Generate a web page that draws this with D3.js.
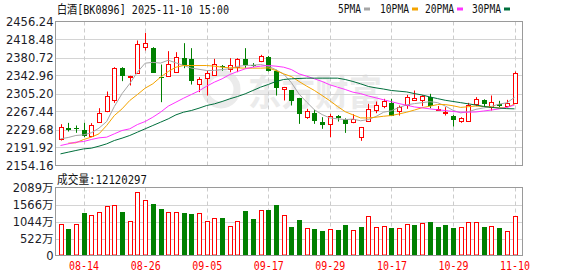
<!DOCTYPE html>
<html><head><meta charset="utf-8">
<script src="https://cdn.jsdelivr.net/npm/d3@7/dist/d3.min.js"></script>
<style>
html,body{margin:0;padding:0;background:#fff;}
svg{display:block;}
</style></head><body>
<svg id="c" width="578" height="276"></svg>
<script>
// ---------------- data ----------------
const title = "白酒[BK0896] 2025-11-10 15:00";
const volTitle = "成交量:12120297";
const dates = ["08-11","08-12","08-13","08-14","08-15","08-18","08-19","08-20","08-21","08-22",
"08-25","08-26","08-27","08-28","08-29","09-01","09-02","09-03","09-04","09-05",
"09-08","09-09","09-10","09-11","09-12","09-15","09-16","09-17","09-18","09-19",
"09-22","09-23","09-24","09-25","09-26","09-29","09-30","10-09","10-10","10-13",
"10-14","10-15","10-16","10-17","10-20","10-21","10-22","10-23","10-24","10-27",
"10-28","10-29","10-30","10-31","11-03","11-04","11-05","11-06","11-07","11-10"];
const opens = [2210.1,2233.8,2233.8,2227.6,2215.7,2245.7,2268.1,2291.2,2358.3,2340.0,
2348.5,2402.4,2401.0,2340.5,2342.9,2351.3,2380.0,2377.9,2325.4,2338.0,
2344.3,2362.0,2356.9,2360.4,2377.9,2366.0,2373.7,2382.8,2353.4,2313.6,
2311.5,2295.4,2255.5,2264.6,2245.0,2241.5,2259.0,2252.0,2246.4,2213.6,
2248.5,2270.9,2278.6,2285.6,2268.1,2281.4,2291.2,2292.6,2297.5,2272.0,
2265.3,2259.0,2247.1,2247.1,2283.5,2291.9,2276.5,2283.5,2280.0,2284.9];
const highs = [2240.8,2243.6,2238.1,2243.6,2243.0,2274.4,2309.4,2360.4,2360.4,2342.5,
2416.4,2432.4,2402.4,2366.0,2394.0,2391.9,2410.8,2400.3,2339.4,2353.4,
2377.9,2365.0,2379.3,2379.3,2400.3,2369.0,2386.3,2384.0,2355.0,2319.0,
2312.0,2296.0,2273.0,2271.0,2255.5,2262.5,2260.0,2253.0,2261.8,2235.0,
2283.5,2288.4,2294.0,2294.0,2280.0,2302.4,2311.5,2301.5,2304.5,2279.0,
2276.5,2260.0,2255.5,2285.6,2297.5,2293.0,2301.0,2289.8,2291.9,2351.3];
const lows = [2206.6,2225.4,2222.7,2213.6,2213.6,2243.7,2266.0,2285.6,2331.1,2322.0,
2346.4,2395.4,2348.5,2287.0,2340.8,2349.9,2358.3,2324.0,2308.0,2301.0,
2343.0,2353.0,2349.9,2349.9,2359.0,2361.0,2370.9,2351.3,2301.0,2290.5,
2280.0,2241.5,2252.0,2241.5,2231.1,2213.6,2246.4,2222.6,2242.9,2205.9,
2246.4,2263.9,2274.4,2259.0,2259.0,2273.0,2290.0,2278.6,2274.4,2269.5,
2259.0,2235.9,2243.7,2247.0,2278.6,2278.6,2269.5,2276.5,2278.6,2284.0];
const closes = [2235.9,2228.2,2230.4,2215.7,2240.1,2264.6,2300.3,2358.3,2341.5,2342.0,
2409.4,2411.5,2348.5,2338.5,2367.4,2381.4,2365.3,2331.1,2335.9,2348.5,
2367.4,2360.0,2365.3,2377.9,2365.3,2365.0,2384.9,2353.4,2316.4,2318.5,
2290.5,2262.5,2269.5,2248.5,2239.4,2259.0,2253.4,2241.5,2251.3,2234.5,
2273.0,2281.4,2290.5,2259.0,2276.5,2298.9,2295.4,2301.0,2278.6,2273.5,
2266.7,2250.6,2254.1,2281.4,2294.0,2283.5,2287.0,2280.0,2284.9,2348.5];
// volume in 万
const volumes = [968,825,968,1314,1243,1335,1518,1549,1345,1060,
1962,1702,1590,1437,1345,1345,1314,1284,1304,1070,
1151,1162,907,1070,1376,1131,1396,1406,1549,1243,
887,1100,846,825,764,815,795,948,785,887,
1213,876,907,856,846,968,948,999,1039,887,
937,856,876,1029,1029,887,907,836,764,1212.03];
const ma5 = [2210.1,2212.9,2217.1,2218.5,2222.7,2232.5,2246.4,2278.0,2305.0,2326.0,
2350.0,2368.8,2370.5,2369.0,2375.0,2369.5,2364.0,2358.5,2356.0,2353.4,
2353.6,2355.5,2357.0,2362.0,2364.0,2364.5,2366.0,2362.5,2355.0,2346.0,
2328.0,2304.0,2287.0,2271.0,2261.0,2254.0,2252.0,2250.5,2251.5,2248.0,
2250.5,2257.0,2266.0,2269.0,2276.0,2281.4,2284.0,2286.0,2288.0,2286.0,
2279.0,2270.0,2264.5,2267.0,2272.0,2275.0,2278.0,2283.0,2285.6,2297.0];
const ma10 = [null,2201.0,2201.7,2208.7,2213.6,2220.6,2238.1,2259.0,2273.0,2290.5,
2303.1,2316.4,2325.5,2339.5,2351.3,2360.4,2363.9,2363.9,2363.9,2363.9,
2362.5,2360.4,2359.0,2359.0,2358.3,2358.3,2358.3,2359.0,2353.4,2346.4,
2340.8,2330.4,2320.6,2311.5,2301.0,2290.0,2278.0,2267.0,2260.4,2254.0,
2254.0,2255.5,2257.5,2259.0,2262.3,2266.0,2270.5,2275.5,2278.5,2282.0,
2282.0,2279.5,2276.0,2277.5,2279.0,2278.0,2277.0,2275.0,2275.8,2283.0];
const ma20 = [2196.1,2199.6,2203.1,2204.5,2208.7,2212.2,2213.6,2220.6,2227.6,2231.1,
2240.1,2246.4,2255.5,2266.0,2278.6,2287.0,2295.4,2303.1,2310.8,2320.6,
2329.0,2336.0,2345.0,2351.3,2356.9,2360.4,2362.5,2363.9,2362.5,2360.4,
2355.5,2346.4,2341.5,2336.0,2330.4,2323.4,2318.5,2313.6,2308.0,2305.0,
2300.0,2296.0,2292.0,2288.0,2284.0,2280.5,2277.0,2275.0,2273.0,2271.0,
2269.5,2267.5,2266.0,2266.0,2266.5,2268.5,2270.5,2273.0,2276.0,2281.0];
const ma30 = [2178.6,2182.1,2185.6,2189.0,2190.5,2194.7,2199.6,2206.6,2211.5,2217.1,
2224.1,2231.1,2238.1,2245.0,2252.0,2260.4,2266.0,2269.5,2274.4,2280.0,
2283.5,2288.4,2294.0,2298.9,2304.5,2311.5,2318.5,2324.1,2330.4,2334.6,
2336.0,2336.7,2337.4,2337.4,2337.4,2337.4,2337.4,2334.6,2330.4,2325.5,
2320.0,2317.0,2314.5,2311.5,2310.0,2308.5,2305.0,2302.0,2298.0,2294.5,
2291.0,2288.5,2286.0,2283.5,2281.0,2278.0,2276.0,2274.5,2273.5,2273.0];
const priceTicks = [2154.16,2191.92,2229.68,2267.44,2305.20,2342.96,2380.72,2418.48,2456.24];
const volTicks = [0,522,1044,1566,2089];
const dateLabels = ["08-14","08-26","09-05","09-17","09-29","10-17","10-29","11-10"];
const maNames = ["5PMA","10PMA","20PMA","30PMA"];
const maColors = ["#a6a6a6","#f4a400","#ff33ff","#006f3c"];

// ---------------- layout ----------------
const svg = d3.select("#c");
const L = 55.5, R = 522.5;
const T = 21.5, B = 165.5;
const vT = 187.5, vB = 255.5;
const UP = "#ff0000", DOWN = "#008000";
const monoFont = "'DejaVu Sans Mono','Noto Sans CJK SC',monospace";
const numFont = "'DejaVu Sans',sans-serif";

const x = d3.scalePoint().domain(dates).range([60.5, 514.5]);
const y = d3.scaleLinear().domain([priceTicks[0], priceTicks[priceTicks.length-1]]).range([B, T]);
const yv = d3.scaleLinear().domain([0, volTicks[volTicks.length-1]]).range([vB, vT]);
const cx = d => Math.round(x(d));

// ---------------- watermark ----------------
const wm = svg.append("g").attr("fill", "#ebebeb");
wm.append("circle").attr("cx", 221).attr("cy", 89).attr("r", 16)
  .attr("fill", "none").attr("stroke", "#ebebeb").attr("stroke-width", 7);
wm.append("text").attr("x", 248).attr("y", 106)
  .attr("font-family", "'Noto Sans CJK SC',sans-serif").attr("font-weight", "bold")
  .attr("font-size", 36).attr("textLength", 134).attr("lengthAdjust", "spacingAndGlyphs")
  .text("东方财富");

// ---------------- grids ----------------
const grid = svg.append("g");
grid.selectAll(".hg").data(priceTicks.slice(1, -1)).join("line")
  .attr("x1", L).attr("x2", R).attr("y1", d => Math.round(y(d)) + 0.5).attr("y2", d => Math.round(y(d)) + 0.5)
  .attr("stroke", "#d4d4d4");
grid.selectAll(".vhg").data(volTicks.slice(1, -1)).join("line")
  .attr("x1", L).attr("x2", R).attr("y1", d => Math.round(yv(d)) + 0.5).attr("y2", d => Math.round(yv(d)) + 0.5)
  .attr("stroke", "#d4d4d4");
[[T, B], [vT, vB]].forEach(([a, b]) => {
  grid.append("g").selectAll("line").data(dateLabels).join("line")
    .attr("x1", d => cx(d) + 0.5).attr("x2", d => cx(d) + 0.5)
    .attr("y1", a).attr("y2", b)
    .attr("stroke", "#cccccc").attr("stroke-dasharray", "4,3");
});

// ---------------- candles ----------------
const idx = d3.range(dates.length);
const cg = svg.append("g");
cg.selectAll("line").data(idx).join("line")
  .attr("x1", i => cx(dates[i]) + 0.5).attr("x2", i => cx(dates[i]) + 0.5)
  .attr("y1", i => y(highs[i])).attr("y2", i => y(lows[i]))
  .attr("stroke", i => closes[i] >= opens[i] ? UP : DOWN);
cg.selectAll("rect").data(idx).join("rect")
  .each(function(i) {
    const up = closes[i] >= opens[i];
    const top = y(Math.max(opens[i], closes[i]));
    const bot = y(Math.min(opens[i], closes[i]));
    const c = cx(dates[i]);
    const s = d3.select(this);
    if (up) {
      const t = Math.round(top) + 0.5;
      const h = Math.max(1, Math.round(bot) - Math.round(top));
      s.attr("x", c - 1.5).attr("width", 4).attr("y", t).attr("height", h)
       .attr("fill", "#fff").attr("stroke", UP);
    } else {
      const t = Math.round(top);
      const h = Math.max(1, Math.round(bot) - t);
      s.attr("x", c - 2).attr("width", 5).attr("y", t).attr("height", h)
       .attr("fill", DOWN);
    }
  });

// ---------------- moving averages ----------------
[ma5, ma10, ma20, ma30].forEach((arr, k) => {
  const line = d3.line().defined(d => d != null)
    .x((d, i) => x(dates[i])).y(d => y(d));
  svg.append("path").datum(arr).attr("d", line)
    .attr("fill", "none").attr("stroke", maColors[k]).attr("stroke-width", 1);
});

// ---------------- volume bars ----------------
const vg = svg.append("g");
vg.selectAll("rect").data(idx).join("rect")
  .each(function(i) {
    const up = i === 0 ? closes[i] >= opens[i] : closes[i] >= closes[i - 1];
    const c = cx(dates[i]);
    const t = Math.round(yv(volumes[i]));
    const s = d3.select(this);
    if (up) {
      s.attr("x", c - 1.5).attr("width", 4).attr("y", t + 0.5).attr("height", vB - 0.5 - (t + 0.5))
       .attr("fill", "#fff").attr("stroke", UP);
    } else {
      s.attr("x", c - 2).attr("width", 5).attr("y", t).attr("height", vB - 0.5 - t)
       .attr("fill", DOWN);
    }
  });

// ---------------- frames ----------------
svg.append("rect").attr("x", L).attr("y", T).attr("width", R - L).attr("height", B - T)
  .attr("fill", "none").attr("stroke", "#9a9a9a");
svg.append("rect").attr("x", L).attr("y", vT).attr("width", R - L).attr("height", vB - vT)
  .attr("fill", "none").attr("stroke", "#9a9a9a");

// ---------------- axes ----------------
const ya = svg.append("g").attr("transform", `translate(${L},0)`)
  .call(d3.axisLeft(y).tickValues(priceTicks).tickSize(0).tickPadding(2).tickFormat(d3.format(".2f")));
ya.select(".domain").remove();
ya.selectAll("text").attr("font-family", numFont).attr("font-size", 11.5).attr("fill", "#1c1c28");

const va = svg.append("g").attr("transform", `translate(${L},0)`)
  .call(d3.axisLeft(yv).tickValues(volTicks).tickSize(0).tickPadding(2).tickFormat(d => d === 0 ? "0" : d + "万"));
va.select(".domain").remove();
va.selectAll("text").attr("font-family", "'DejaVu Sans','Noto Sans CJK SC',sans-serif").attr("font-size", 11.5).attr("fill", "#1c1c28");

const xa = svg.append("g").attr("transform", `translate(0,${vB})`)
  .call(d3.axisBottom(x).tickValues(dateLabels).tickSize(0).tickPadding(6));
xa.select(".domain").remove();
xa.selectAll("text").attr("font-family", monoFont).attr("font-size", 12).attr("fill", "#ff0000")
  .attr("textLength", 30).attr("lengthAdjust", "spacingAndGlyphs");

// ---------------- titles ----------------
svg.append("text").attr("x", 57).attr("y", 14).attr("font-family", monoFont).attr("font-size", 12)
  .attr("fill", "#111").attr("textLength", 172).attr("lengthAdjust", "spacingAndGlyphs").text(title);
svg.append("text").attr("x", 57).attr("y", 184).attr("font-family", monoFont).attr("font-size", 12)
  .attr("fill", "#111").attr("textLength", 90).attr("lengthAdjust", "spacingAndGlyphs").text(volTitle);

// ---------------- legend ----------------
const legX = [338, 380, 425, 472];
const lg = svg.append("g");
maNames.forEach((n, k) => {
  const w = n.length * 6;
  lg.append("text").attr("x", legX[k]).attr("y", 13).attr("font-family", monoFont).attr("font-size", 12)
    .attr("fill", "#111").attr("textLength", w - 1).attr("lengthAdjust", "spacingAndGlyphs").text(n);
  lg.append("rect").attr("x", legX[k] + w + 2).attr("y", 7.5).attr("width", 6).attr("height", 3)
    .attr("fill", maColors[k]);
});
</script>
</body></html>
